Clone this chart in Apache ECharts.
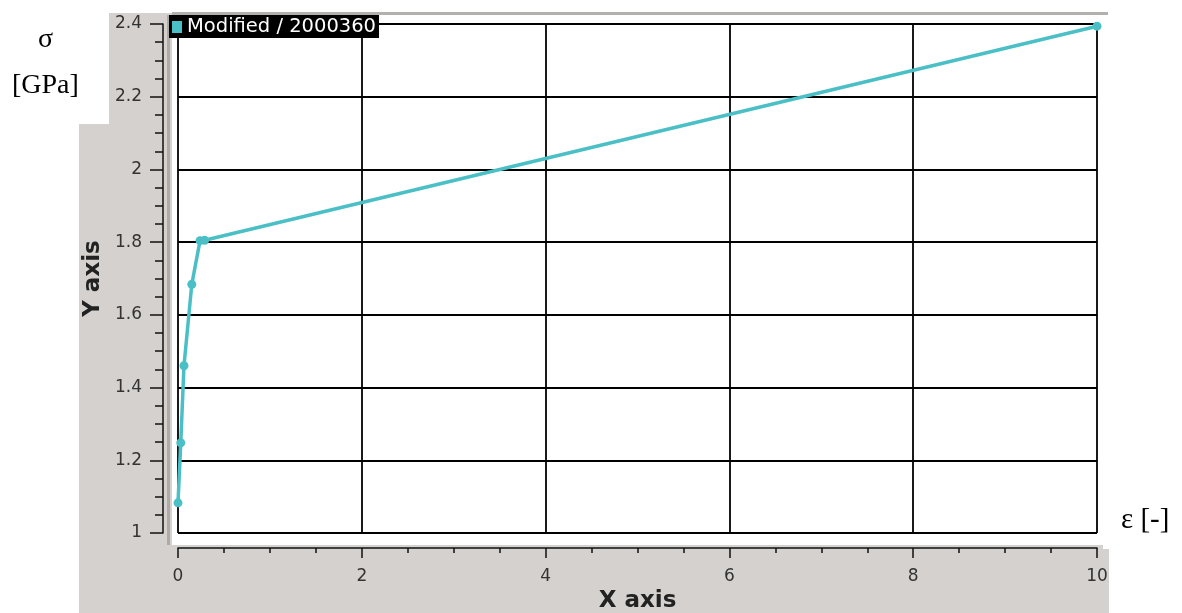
<!DOCTYPE html>
<html>
<head>
<meta charset="utf-8">
<script src="https://cdn.jsdelivr.net/npm/echarts@6/dist/echarts.min.js"></script>
<style>
html, body { margin: 0; padding: 0; background: #fff; }
#echarts-line-chart { width: 1182px; height: 613px; }
</style>
</head>
<body>
<div id="echarts-line-chart"></div>
<script>
// strain / stress points
var strainList = [0, 0.03, 0.065, 0.15, 0.24, 0.29, 10];
var stressList = [1.083, 1.248, 1.46, 1.684, 1.804, 1.805, 2.394];
var seriesName = 'Modified / 2000360';
var xTicks = [0, 2, 4, 6, 8, 10];
var yTicks = [1, 1.2, 1.4, 1.6, 1.8, 2, 2.2, 2.4];

function show_curve(view) {
    var lineChart = echarts.init(document.getElementById(view));
    var points = [];
    for (var i = 0; i < strainList.length; i++) {
        points.push([strainList[i], stressList[i]]);
    }
    var grey = '#d5d1ce';
    var lineoption = {
        backgroundColor: '#fff',
        animation: false,
        textStyle: { fontFamily: 'DejaVu Sans' },
        grid: {
            left: 178,
            right: 85,
            top: 24,
            bottom: 80,
            outerBoundsMode: 'none'
        },
        legend: {
            left: 169,
            top: 15,
            backgroundColor: '#000',
            padding: [2, 3, 1, 3],
            icon: 'rect',
            itemWidth: 10,
            itemHeight: 12,
            textStyle: {
                color: '#fff',
                fontSize: 19.5,
                fontFamily: 'DejaVu Sans',
                lineHeight: 20
            },
            data: [seriesName]
        },
        graphic: [
            { type: 'rect', z: -10, shape: { x: 109, y: 13, width: 63, height: 112 }, style: { fill: grey } },
            { type: 'rect', z: -10, shape: { x: 79, y: 124, width: 93, height: 489 }, style: { fill: grey } },
            { type: 'rect', z: -10, shape: { x: 79, y: 545, width: 1024, height: 68 }, style: { fill: grey } },
            { type: 'rect', z: -10, shape: { x: 1103, y: 549, width: 6, height: 64 }, style: { fill: grey } },
            { type: 'rect', z: -10, shape: { x: 172, y: 12, width: 936, height: 3 }, style: { fill: '#b4b0b0' } },
            { type: 'rect', z: -10, shape: { x: 167, y: 15, width: 3, height: 530 }, style: { fill: '#aeaaa8' } },
            { type: 'text', left: 38, top: 26, style: { text: 'σ', font: '28px "Liberation Serif"', fill: '#000' } },
            { type: 'text', left: 12, top: 72, style: { text: '[GPa]', font: '28px "Liberation Serif"', fill: '#000' } },
            { type: 'text', left: 1121, top: 506, style: { text: 'ε [-]', font: '29px "Liberation Serif"', fill: '#000' } }
        ],
        xAxis: [
            {
                type: 'value',
                min: xTicks[0],
                max: xTicks[xTicks.length - 1],
                interval: 2,
                offset: 15,
                name: 'X axis',
                nameLocation: 'middle',
                nameGap: 42,
                nameTextStyle: { fontSize: 23, fontWeight: 'bold', color: '#222', fontFamily: 'DejaVu Sans' },
                axisLine: { show: true, onZero: false, lineStyle: { color: '#111', width: 1.5 } },
                axisTick: { show: true, inside: false, length: 10, lineStyle: { color: '#111', width: 1.5 } },
                minorTick: { show: true, splitNumber: 4, length: 5, lineStyle: { color: '#111', width: 1.5 } },
                axisLabel: { margin: 20, fontSize: 17, color: '#333', fontFamily: 'DejaVu Sans' },
                splitLine: { show: true, lineStyle: { color: '#000', width: 1.8 } }
            }
        ],
        yAxis: [
            {
                type: 'value',
                min: yTicks[0],
                max: yTicks[yTicks.length - 1],
                interval: 0.2,
                offset: 15,
                name: 'Y axis',
                nameLocation: 'middle',
                nameGap: 58,
                nameTextStyle: { fontSize: 23, fontWeight: 'bold', color: '#222', fontFamily: 'DejaVu Sans' },
                axisLine: { show: true, onZero: false, lineStyle: { color: '#111', width: 1.5 } },
                axisTick: { show: true, inside: false, length: 13, lineStyle: { color: '#111', width: 1.5 } },
                minorTick: { show: true, splitNumber: 4, length: 8, lineStyle: { color: '#111', width: 1.5 } },
                axisLabel: { margin: 21, fontSize: 17, color: '#333', fontFamily: 'DejaVu Sans' },
                splitLine: { show: true, lineStyle: { color: '#000', width: 1.8 } }
            }
        ],
        series: [
            {
                name: seriesName,
                type: 'line',
                data: points,
                symbol: 'circle',
                symbolSize: 9,
                showAllSymbol: true,
                color: '#4bbfc6',
                lineStyle: { width: 3.5, color: '#4bbfc6' },
                itemStyle: { color: '#4bbfc6' }
            }
        ]
    };
    lineChart.setOption(lineoption);

    window.onresize = lineChart.resize;
}

show_curve('echarts-line-chart');
</script>
</body>
</html>
